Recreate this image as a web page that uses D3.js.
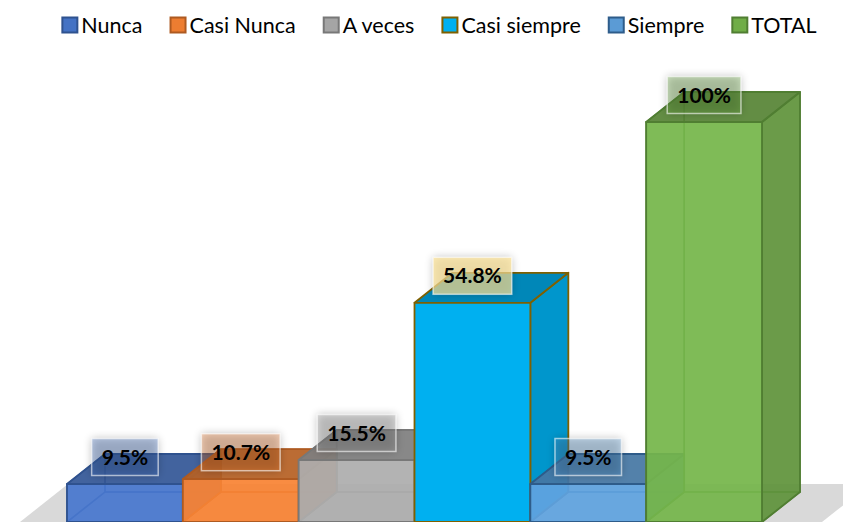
<!DOCTYPE html>
<html>
<head>
<meta charset="utf-8">
<script src="https://cdn.jsdelivr.net/npm/d3@7"></script>
<style>
  html, body { margin: 0; padding: 0; background: #fff; }
  svg { display: block; }
</style>
</head>
<body>
<svg id="chart"></svg>
<script>
(function () {
  // Data
  var categories = ['Nunca', 'Casi Nunca', 'A veces', 'Casi siempre', 'Siempre', 'TOTAL']
  var values = [9.5, 10.7, 15.5, 54.8, 9.5, 100]

  // Styles
  var fills = ['#4472C4', '#ED7D31', '#A5A5A5', '#00B0F0', '#5B9BD5', '#70AD47']
  var edges = ['#2F528F', '#AE5A21', '#787878', '#7F6000', '#2E5C8A', '#507E32']
  var opaque = [false, false, false, true, false, false]

  var WIDTH = 843
  var HEIGHT = 522
  var DX = 38
  var DY = 30

  var svg = d3.select('#chart')
    .attr('width', WIDTH)
    .attr('height', HEIGHT)

  var defs = svg.append('defs')
  var shadow = defs.append('filter')
    .attr('id', 'lblShadow')
    .attr('x', '-30%').attr('y', '-40%')
    .attr('width', '160%').attr('height', '180%')
  shadow.append('feGaussianBlur').attr('in', 'SourceAlpha').attr('stdDeviation', 4)
  shadow.append('feComponentTransfer').append('feFuncA').attr('type', 'linear').attr('slope', 0.25)

  var x = d3.scaleBand()
    .domain(categories)
    .range([67, 762])
    .padding(0)

  var y = d3.scaleLinear()
    .domain([0, 100])
    .range([522, 122])

  // Floor
  var fy0 = y(0)
  var fy1 = y(0) - 38
  svg.append('path')
    .attr('d', 'M20,' + fy0 + 'L68,' + fy1 + 'L870,' + fy1 + 'L822,' + fy0 + 'Z')
    .attr('fill', '#D9D9D9')

  function poly (pts) {
    return 'M' + pts.map(function (p) { return p[0] + ',' + p[1] }).join('L') + 'Z'
  }

  var bars = svg.append('g').attr('class', 'bars')

  categories.forEach(function (c, i) {
    var x0 = x(c)
    var x1 = x0 + x.bandwidth()
    var yt = y(values[i])
    var yb = y(0)
    var base = d3.color(fills[i])
    var front = opaque[i] ? base.formatHex() : base.brighter(0.15).formatHex()
    var top = base.darker(0.75).formatHex()
    var side = base.darker(0.45).formatHex()
    var op = opaque[i] ? 1 : 0.9
    var g = bars.append('g')

    // hidden faces (back, left, bottom) seen through transparent faces
    if (!opaque[i]) {
      var hidden = [
        [[x0 + DX, yt - DY], [x1 + DX, yt - DY], [x1 + DX, yb - DY], [x0 + DX, yb - DY]],
        [[x0, yt], [x0 + DX, yt - DY], [x0 + DX, yb - DY], [x0, yb]],
        [[x0, yb], [x1, yb], [x1 + DX, yb - DY], [x0 + DX, yb - DY]]
      ]
      hidden.forEach(function (f) {
        g.append('path')
          .attr('d', poly(f))
          .attr('fill', side)
          .attr('fill-opacity', 0.3)
          .attr('stroke', edges[i])
          .attr('stroke-width', 1.5)
          .attr('stroke-opacity', 0.8)
          .attr('stroke-linejoin', 'round')
      })
    }

    var faces = [
      { pts: [[x1, yt], [x1 + DX, yt - DY], [x1 + DX, yb - DY], [x1, yb]], fill: side },
      { pts: [[x0, yt], [x1, yt], [x1 + DX, yt - DY], [x0 + DX, yt - DY]], fill: top },
      { pts: [[x0, yt], [x1, yt], [x1, yb], [x0, yb]], fill: front }
    ]
    faces.forEach(function (f) {
      g.append('path')
        .attr('d', poly(f.pts))
        .attr('fill', f.fill)
        .attr('fill-opacity', op)
        .attr('stroke', edges[i])
        .attr('stroke-width', 1.8)
        .attr('stroke-linejoin', 'round')
    })
  })

  // Data labels
  var fmt = function (v) { return v === 100 ? '100%' : d3.format('.1f')(v) + '%' }
  var labels = svg.append('g').attr('class', 'labels')
  categories.forEach(function (c, i) {
    var cx = x(c) + x.bandwidth() / 2
    var cy = y(values[i]) - DY + 3
    var lg = labels.append('g')
    var t = lg.append('text')
      .attr('x', cx)
      .attr('y', cy + 7.5)
      .attr('text-anchor', 'middle')
      .style('font-family', 'Lato, "Open Sans", sans-serif')
      .style('font-weight', 'bold')
      .style('font-size', '21px')
      .attr('fill', '#000')
      .text(fmt(values[i]))
    var w = t.node().getComputedTextLength() + 20
    var h = 37
    lg.insert('rect', 'text')
      .attr('x', cx - w / 2).attr('y', cy - h / 2)
      .attr('width', w).attr('height', h)
      .attr('fill', '#000')
      .attr('filter', 'url(#lblShadow)')
    lg.insert('rect', 'text')
      .attr('x', cx - w / 2).attr('y', cy - h / 2)
      .attr('width', w).attr('height', h)
      .attr('fill', opaque[i] ? '#FFE699' : fills[i])
      .attr('fill-opacity', opaque[i] ? 0.7 : 0.32)
      .attr('stroke', '#fff')
      .attr('stroke-opacity', 0.6)
      .attr('stroke-width', 1.5)
  })

  // Legend
  var legend = svg.append('g').attr('class', 'legend')
  var lx = 0
  categories.forEach(function (c, i) {
    var it = legend.append('g')
    it.append('rect')
      .attr('x', 1).attr('y', 17.5)
      .attr('width', 15).attr('height', 15)
      .attr('fill', fills[i])
      .attr('stroke', edges[i])
      .attr('stroke-width', 2)
    var t = it.append('text')
      .attr('x', 20)
      .attr('y', 33)
      .style('font-family', 'Lato, "Open Sans", sans-serif')
      .style('font-size', '21.5px')
      .attr('fill', '#000')
      .text(c)
    var w = 20 + t.node().getComputedTextLength()
    it.attr('transform', 'translate(' + lx + ',0)')
    lx += w + 27
  })
  var total = lx - 27
  legend.attr('transform', 'translate(' + (439 - total / 2) + ',0)')
})()
</script>
</body>
</html>
